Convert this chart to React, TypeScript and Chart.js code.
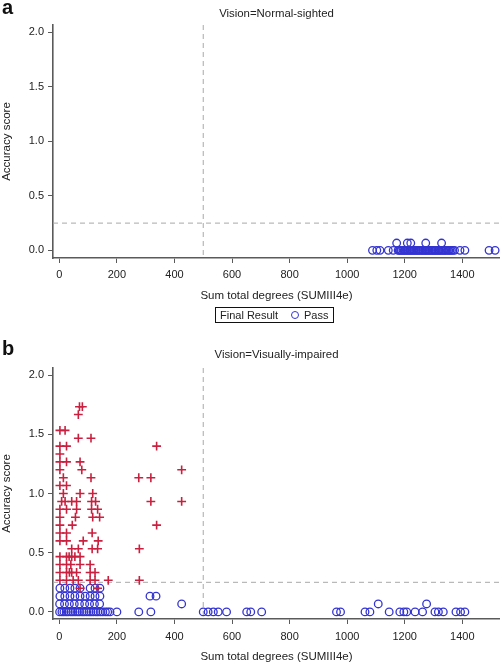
import React, { useEffect, useRef } from "react";
import { Chart, registerables } from "chart.js";

Chart.register(...registerables);

// ---------- data ----------
const xTickValues = [0, 200, 400, 600, 800, 1000, 1200, 1400];
const yTickValues = [0, 0.5, 1.0, 1.5, 2.0];
const degreeCutoff = 500;
const scoreCutoff = 0.25;

const panelTitles = ["Vision=Normal-sighted", "Vision=Visually-impaired"];
const panelLetters = ["a", "b"];
const xAxisTitle = "Sum total degrees (SUMIII4e)";
const yAxisTitle = "Accuracy score";
const legendTitle = "Final Result";
const passLabel = "Pass";
const failLabel = "Fail";

// Normal-sighted, Pass: degrees at score 0.0
const normalPassScore0 = [
  1088, 1103, 1114, 1143, 1160, 1177, 1181, 1186, 1189, 1194, 1198, 1201, 1206,
  1209, 1213, 1218, 1221, 1225, 1230, 1233, 1238, 1241, 1246, 1249, 1253, 1258,
  1262, 1265, 1270, 1273, 1277, 1282, 1285, 1290, 1294, 1297, 1302, 1306, 1309,
  1314, 1318, 1321, 1326, 1330, 1335, 1339, 1343, 1348, 1353, 1357, 1362, 1367,
  1373, 1392, 1409, 1493, 1514,
];
// Normal-sighted, Pass: degrees at score 0.067
const normalPassScore1 = [1172, 1209, 1221, 1273, 1328];

// Visually-impaired, Pass
const impairedPassScore0 = [
  1, 9, 16, 24, 31, 40, 47, 55, 63, 70, 79, 86, 95, 103, 110, 118, 127, 134, 143,
  151, 160, 168, 176, 200, 276, 318, 500, 517, 535, 552, 581, 651, 665, 703, 963,
  977, 1062, 1079, 1146, 1183, 1197, 1207, 1236, 1262, 1305, 1317, 1334, 1378,
  1394, 1409,
];
const impairedPassScore1 = [1, 18, 35, 52, 70, 88, 105, 122, 140, 425, 1108, 1276];
const impairedPassScore2 = [2, 19, 37, 54, 72, 90, 107, 124, 141, 315, 336];
const impairedPassScore3 = [2, 19, 37, 54, 72, 107, 124, 141];

// Visually-impaired, Fail: [degrees, score]
const impairedFail: [number, number][] = [
  [70, 1.733], [80, 1.733], [66, 1.667], [2, 1.533], [20, 1.533], [66, 1.467], [110, 1.467],
  [2, 1.4], [25, 1.4], [338, 1.4], [2, 1.333], [2, 1.267], [25, 1.267], [72, 1.267],
  [2, 1.2], [78, 1.2], [425, 1.2], [14, 1.133], [110, 1.133], [276, 1.133], [318, 1.133],
  [2, 1.067], [25, 1.067], [14, 1.0], [72, 1.0], [116, 1.0],
  [8, 0.933], [20, 0.933], [43, 0.933], [60, 0.933], [112, 0.933], [126, 0.933], [318, 0.933], [425, 0.933],
  [2, 0.867], [25, 0.867], [60, 0.867], [112, 0.867], [133, 0.867],
  [2, 0.8], [56, 0.8], [116, 0.8], [140, 0.8],
  [2, 0.733], [45, 0.733], [338, 0.733],
  [2, 0.667], [25, 0.667], [114, 0.667],
  [2, 0.6], [25, 0.6], [83, 0.6], [135, 0.6],
  [43, 0.533], [66, 0.533], [114, 0.533], [133, 0.533], [278, 0.533],
  [2, 0.467], [25, 0.467], [34, 0.467], [43, 0.467], [54, 0.467], [72, 0.467],
  [2, 0.4], [25, 0.4], [40, 0.4], [72, 0.4], [107, 0.4],
  [2, 0.333], [25, 0.333], [35, 0.333], [43, 0.333], [60, 0.333], [107, 0.333], [124, 0.333],
  [2, 0.267], [25, 0.267], [48, 0.267], [66, 0.267], [107, 0.267], [124, 0.267], [170, 0.267], [278, 0.267],
  [72, 0.2], [133, 0.2],
];

// ---------- style ----------
const FONT = '"Liberation Sans", Arial, Helvetica, sans-serif';
const BLUE = "#3434d2";
const RED = "#c9203f";
const AXIS = "#5a5a5a";
const TEXT = "#222";

const toPoints = (xs: number[], y: number) => xs.map((x) => ({ x, y }));

const refLinesPlugin = {
  id: "refLines",
  beforeDatasetsDraw(chart: any) {
    const { ctx, chartArea, scales } = chart;
    const px = scales.x.getPixelForValue(degreeCutoff);
    const py = scales.y.getPixelForValue(scoreCutoff);
    ctx.save();
    ctx.strokeStyle = "#a8a8a8";
    ctx.lineWidth = 1;
    ctx.setLineDash([5, 4]);
    ctx.beginPath();
    ctx.moveTo(px, chartArea.top);
    ctx.lineTo(px, chartArea.bottom);
    ctx.moveTo(chartArea.left, py);
    ctx.lineTo(chartArea.right, py);
    ctx.stroke();
    ctx.restore();
  },
};

type PanelProps = {
  top: number;
  height: number;
  padTop: number;
  padBottom: number;
  xScaleHeight: number;
  xTickPad: number;
  yMin: number;
  yMax: number;
  datasets: any[];
};

function Panel(p: PanelProps) {
  const ref = useRef<HTMLCanvasElement>(null);
  useEffect(() => {
    const font = { family: FONT, size: 11 };
    const titleFont = { family: FONT, size: 11.5 };
    const chart = new Chart(ref.current!, {
      type: "scatter",
      data: { datasets: p.datasets },
      plugins: [refLinesPlugin],
      options: {
        animation: false,
        responsive: false,
        devicePixelRatio: 1,
        layout: {
          autoPadding: false,
          padding: { top: p.padTop, bottom: p.padBottom, left: 0, right: 0 },
        },
        plugins: { legend: { display: false }, tooltip: { enabled: false }, title: { display: false } },
        scales: {
          x: {
            type: "linear",
            min: -22,
            max: 1531,
            afterBuildTicks: (s: any) => {
              s.ticks = xTickValues.map((v) => ({ value: v }));
            },
            afterFit: (s: any) => {
              s.height = p.xScaleHeight;
              s.paddingLeft = 0;
              s.paddingRight = 0;
            },
            ticks: {
              font,
              color: TEXT,
              padding: p.xTickPad,
              maxRotation: 0,
              autoSkip: false,
              callback: (v: any) => String(v),
            },
            grid: { drawOnChartArea: false, drawTicks: true, tickLength: 5, color: AXIS, lineWidth: 1 },
            border: { display: true, color: AXIS, width: 1.6 },
            title: { display: true, text: xAxisTitle, font: titleFont, color: TEXT, padding: 0 },
          },
          y: {
            type: "linear",
            min: p.yMin,
            max: p.yMax,
            afterBuildTicks: (s: any) => {
              s.ticks = yTickValues.map((v) => ({ value: v }));
            },
            afterFit: (s: any) => {
              s.width = 53;
              s.paddingTop = 0;
              s.paddingBottom = 0;
            },
            ticks: {
              font,
              color: TEXT,
              padding: 4,
              autoSkip: false,
              callback: (v: any) => Number(v).toFixed(1),
            },
            grid: { drawOnChartArea: false, drawTicks: true, tickLength: 5, color: AXIS, lineWidth: 1 },
            border: { display: true, color: AXIS, width: 1.6 },
            title: { display: true, text: yAxisTitle, font: titleFont, color: TEXT, padding: 0 },
          },
        },
      } as any,
    });
    return () => chart.destroy();
  }, []);
  return (
    <canvas
      ref={ref}
      width={500}
      height={p.height}
      style={{ position: "absolute", left: 0, top: p.top, width: 500, height: p.height }}
    />
  );
}

const passStyle = {
  pointStyle: "circle",
  backgroundColor: "rgba(0,0,0,0)",
  borderColor: BLUE,
  pointRadius: 3.8,
  pointBorderWidth: 1.3,
  clip: false,
};
const failStyle = {
  pointStyle: "cross",
  backgroundColor: RED,
  borderColor: RED,
  pointRadius: 4.4,
  pointBorderWidth: 1.6,
  clip: false,
};

const normalDatasets = [
  {
    label: passLabel,
    data: [...toPoints(normalPassScore0, 0), ...toPoints(normalPassScore1, 0.067)],
    ...passStyle,
  },
];

const impairedDatasets = [
  {
    label: failLabel,
    data: impairedFail.map(([x, y]) => ({ x, y })),
    ...failStyle,
  },
  {
    label: passLabel,
    data: [
      ...toPoints(impairedPassScore0, 0),
      ...toPoints(impairedPassScore1, 0.067),
      ...toPoints(impairedPassScore2, 0.133),
      ...toPoints(impairedPassScore3, 0.2),
    ],
    ...passStyle,
  },
];

const abs = (left: number, top: number, extra: any = {}) => ({
  position: "absolute" as const,
  left,
  top,
  whiteSpace: "nowrap" as const,
  ...extra,
});

export default function App() {
  return (
    <div
      style={{
        position: "absolute",
        left: 0,
        top: 0,
        width: 500,
        height: 665,
        background: "#fff",
        fontFamily: FONT,
        color: TEXT,
        overflow: "hidden",
      }}
    >
      <Panel
        top={0}
        height={330}
        padTop={25}
        padBottom={27}
        xScaleHeight={45}
        xTickPad={5}
        yMin={-0.07}
        yMax={2.067}
        datasets={normalDatasets}
      />
      <Panel
        top={330}
        height={335}
        padTop={38}
        padBottom={1}
        xScaleHeight={45}
        xTickPad={6}
        yMin={-0.06}
        yMax={2.06}
        datasets={impairedDatasets}
      />

      <div style={abs(2, -3, { fontSize: 20, fontWeight: "bold", lineHeight: "20px", color: "#111" })}>
        {panelLetters[0]}
      </div>
      <div style={abs(2, 338, { fontSize: 20, fontWeight: "bold", lineHeight: "20px", color: "#111" })}>
        {panelLetters[1]}
      </div>

      <div style={abs(53, 7, { width: 447, textAlign: "center", fontSize: 11.4, lineHeight: "13px" })}>
        {panelTitles[0]}
      </div>
      <div style={abs(53, 348, { width: 447, textAlign: "center", fontSize: 11.4, lineHeight: "13px" })}>
        {panelTitles[1]}
      </div>

      {/* legend */}
      <div
        style={abs(215, 307, {
          width: 119,
          height: 16,
          boxSizing: "border-box",
          border: "1px solid #111",
        })}
      />
      <div style={abs(220, 308, { fontSize: 11, lineHeight: "14px" })}>{legendTitle}</div>
      <div
        style={abs(291, 311, {
          width: 8,
          height: 8,
          boxSizing: "border-box",
          borderRadius: "50%",
          border: `1.3px solid ${BLUE}`,
        })}
      />
      <div style={abs(304, 308, { fontSize: 11, lineHeight: "14px" })}>{passLabel}</div>
    </div>
  );
}
